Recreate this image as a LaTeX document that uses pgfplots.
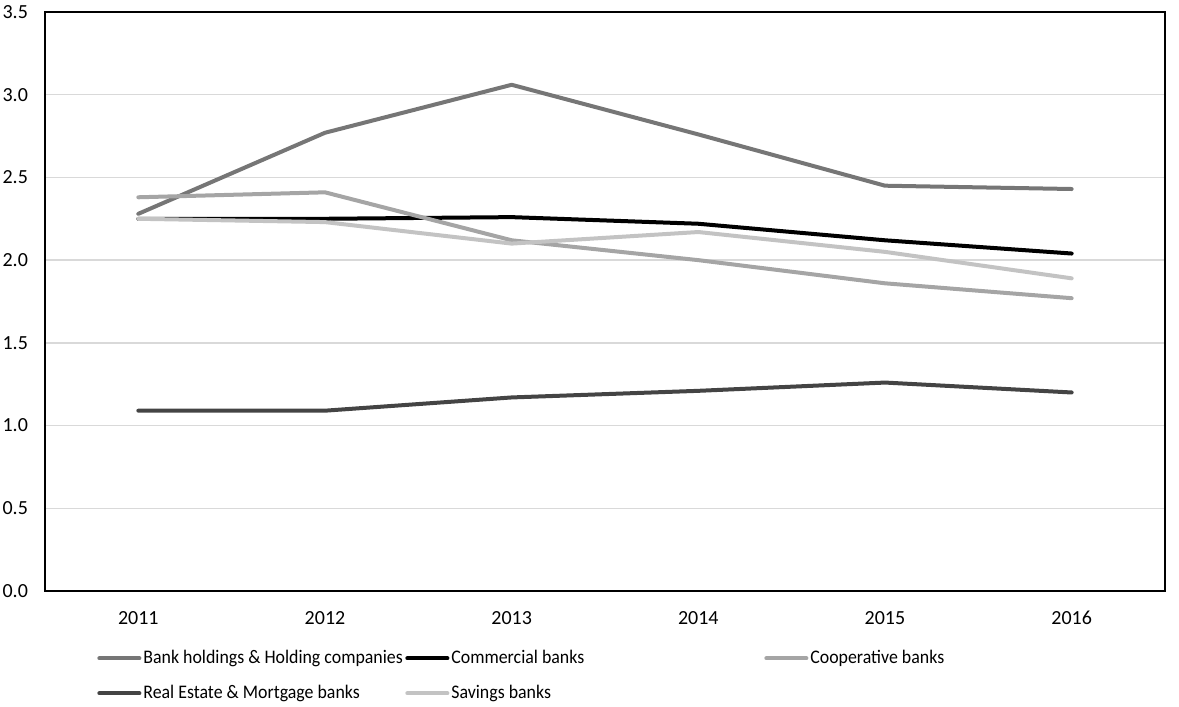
\documentclass[border=0pt]{standalone}
\usepackage{fontspec}
\setmainfont{Carlito}
\newfontfamily\legfont[FakeStretch=0.93]{Carlito}
\usepackage{pgfplots}
\pgfplotsset{compat=1.18}
\newcommand\ns[1]{{\spaceskip=0pt\xspaceskip=0pt\mbox{#1}}}
\definecolor{cBH}{HTML}{767676}
\definecolor{cCO}{HTML}{A5A5A5}
\definecolor{cRE}{HTML}{444444}
\definecolor{cSA}{HTML}{C3C3C3}
\definecolor{gridc}{HTML}{D9D9D9}
\begin{document}
\fontsize{10pt}{12pt}\selectfont
\begin{tikzpicture}
\path[use as bounding box] (0,0) rectangle (589.5pt,353.5pt);
\begin{axis}[
  at={(22.5pt,58pt)}, anchor=south west,
  scale only axis, width=560pt, height=289.5pt,
  xmin=2010.5, xmax=2016.5, ymin=0, ymax=3.5,
  xtick={2011,2012,2013,2014,2015,2016},
  xticklabels={2011,2012,2013,2014,2015,2016},
  ytick={0,0.5,1,1.5,2,2.5,3,3.5},
  yticklabels={0.0,0.5,1.0,1.5,2.0,2.5,3.0,3.5},
  major tick length=0pt,
  ymajorgrids, grid style={draw=gridc, line width=0.7pt},
  axis line style={black, line width=1pt},
  tick label style={font=\fontsize{10pt}{12pt}\selectfont},
  yticklabel style={anchor=east, xshift=-5pt},
  xticklabel style={yshift=-6.5pt},
  every axis plot/.append style={line width=2pt, line cap=round, line join=round, mark=none},
  legend columns=3,
  legend cell align=left,
  legend image code/.code={\draw[#1] (0pt,0pt) -- (20pt,0pt);},
  legend style={draw=none, fill=none, inner sep=0pt, column sep=0pt, row sep=4.5pt,
    at={(0.0464,-0.0933)}, anchor=north west,
    font=\legfont\fontsize{9.6pt}{11pt}\selectfont,
    nodes={inner xsep=1pt, inner ysep=2pt, text height=7pt, text depth=2pt}},
]
\addplot[cBH] coordinates {(2011,2.28) (2012,2.77) (2013,3.06) (2014,2.76) (2015,2.45) (2016,2.43)};
\addlegendentry[text width=130pt]{\ns{Bank holdings \& Holding companies}}
\addplot[black] coordinates {(2011,2.25) (2012,2.25) (2013,2.26) (2014,2.22) (2015,2.12) (2016,2.04)};
\addlegendentry[text width=155.5pt]{\ns{Commercial banks}}
\addplot[cCO] coordinates {(2011,2.38) (2012,2.41) (2013,2.12) (2014,2.00) (2015,1.86) (2016,1.77)};
\addlegendentry{Cooperative banks}
\addplot[cRE] coordinates {(2011,1.09) (2012,1.09) (2013,1.17) (2014,1.21) (2015,1.26) (2016,1.20)};
\addlegendentry[text width=130pt]{\ns{Real Estate \& Mortgage banks}}
\addplot[cSA] coordinates {(2011,2.25) (2012,2.23) (2013,2.10) (2014,2.17) (2015,2.05) (2016,1.89)};
\addlegendentry[text width=155.5pt]{\ns{Savings banks}}
\end{axis}
\end{tikzpicture}
\end{document}
